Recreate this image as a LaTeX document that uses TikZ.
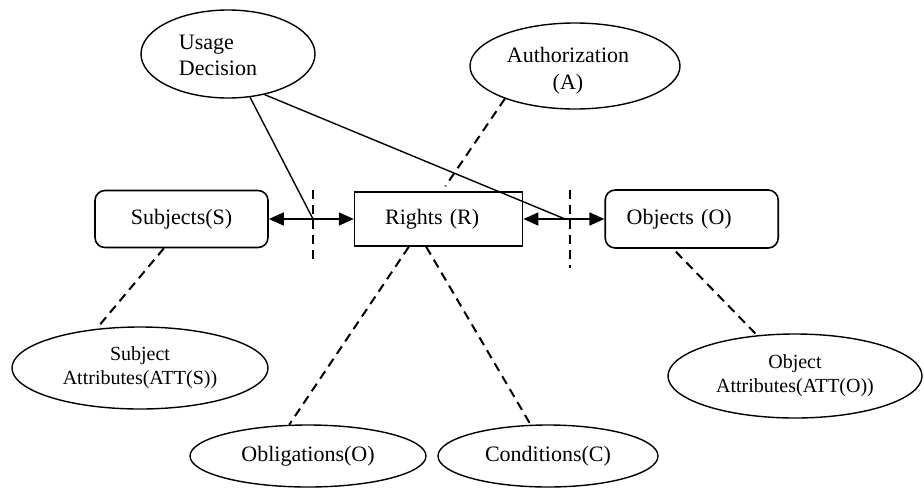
\documentclass[tikz,border=0pt]{standalone}
\usepackage{fontspec}
\setmainfont{Liberation Serif}
\usetikzlibrary{shapes.geometric,arrows.meta,positioning}

\tikzset{
  ent/.style={draw, line width=0.8pt, minimum width=86.5pt, minimum height=28.5pt, font=\fontsize{11}{13}\selectfont},
  rent/.style={ent, rounded corners=5pt},
  oval/.style={draw, ellipse, line width=0.7pt, inner sep=0pt, align=center, font=\fontsize{11}{13}\selectfont},
  attr/.style={oval, font=\fontsize{10}{12}\selectfont},
  txt/.style={inner sep=0pt, font=\fontsize{11}{13}\selectfont},
  link/.style={dash pattern=on 4.5pt off 3pt, line width=1pt},
  both/.style={{Triangle[length=7.5pt,width=6.5pt]}-{Triangle[length=7.5pt,width=6.5pt]}, line width=0.8pt},
  plain/.style={line width=0.7pt}
}

\begin{document}
\begin{tikzpicture}[x=0.5pt,y=-0.5pt]
\useasboundingbox (0,0) rectangle (924,487);

%% entities
\node[rent](subj) at (181.5,219){Subjects(S)};
\node[ent, right=42.5pt of subj, minimum width=84pt, minimum height=27pt,
  align=left, text width=53.5pt, inner xsep=15.25pt](rights){Rights (R)};
\node[rent, right=40.5pt of rights, minimum height=29pt,
  align=left, text width=65pt, inner xsep=10.75pt](obj){Objects (O)};

%% ovals
\node[oval, minimum width=87pt, minimum height=44pt](usage) at (228,54){};
\node[txt, align=left](usagetxt) at (218,55){Usage\\Decision};

\node[oval, minimum width=105pt, minimum height=43pt](auth) at (575,66){};
\node[txt, align=center, font=\fontsize{11}{13.5}\selectfont](authtxt) at (568,71){Authorization\\(A)};

\node[attr, minimum width=128pt, minimum height=41pt](subjatt) at (140,368){Subject\\Attributes(ATT(S))};
\node[attr, minimum width=127pt, minimum height=42pt](objatt) at (795,376){Object\\Attributes(ATT(O))};

\node[oval, minimum width=118pt, minimum height=31pt](oblig) at (308,456){Obligations(O)};
\node[oval, minimum width=110pt, minimum height=31pt](cond) at (548,456){Conditions(C)};

%% guard points
\coordinate (gl1) at (313,190);
\coordinate (gl2) at (313,265);
\coordinate (gr1) at (570,190);
\coordinate (gr2) at (570,268);
\coordinate (cl) at (313,219);
\coordinate (cr) at (565,219);

%% edges
\draw[both](subj) -- (rights);
\draw[both](rights) -- (obj);

\draw[link](gl1) -- (gl2);
\draw[link](gr1) -- (gr2);

\draw[plain](usage.-63) -- (cl);
\draw[plain](usage.-48) -- (cr);

\draw[link, shorten >=3pt](auth.-155) -- (rights.83);
\draw[link](subj.-121) -- (subjatt.138);
\draw[link](rights.-137) -- (oblig.121);
\draw[link](rights.-114) -- (cond.119);
\draw[link, shorten <=2pt](obj.-122) -- (objatt.133);

\end{tikzpicture}
\end{document}
